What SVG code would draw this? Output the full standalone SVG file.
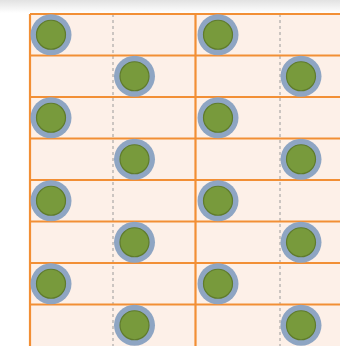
<svg xmlns="http://www.w3.org/2000/svg" width="340" height="346" viewBox="0 0 340 346">
<defs>
<linearGradient id="topShade" x1="0" y1="0" x2="0" y2="1">
<stop offset="0" stop-color="#e2e2e2"/>
<stop offset="1" stop-color="#ffffff"/>
</linearGradient>
<g id="dot">
<circle r="20.5" fill="#8ea5c3"/>
<circle r="14.5" fill="#789a3c" stroke="#5f7b2c" stroke-width="1.2"/>
</g>
</defs>
<style>
.cell{fill:#fdf0e8}
.ol{stroke:#f28f35;stroke-width:2.2;fill:none}
.dl{stroke:#9a9a9a;stroke-width:1;stroke-dasharray:3 3;fill:none}
</style>
<rect x="0" y="0" width="340" height="346" fill="#ffffff"/>
<rect x="0" y="0" width="340" height="13" fill="url(#topShade)"/>
<g id="table">
<rect class="cell" x="30" y="14" width="334" height="340"/>
<path class="dl" d="M113 14V346M280 14V346"/>
<path class="ol" d="M30 14H340M30 55.5H340M30 97H340M30 138.5H340M30 180H340M30 221.5H340M30 263H340M30 304.5H340"/>
<path class="ol" d="M30 14V346M195.5 14V346" stroke-width="2.6"/>
</g>
<g id="dots">
<use href="#dot" x="51" y="34.75"/>
<use href="#dot" x="218" y="34.75"/>
<use href="#dot" x="134.5" y="76.25"/>
<use href="#dot" x="301" y="76.25"/>
<use href="#dot" x="51" y="117.75"/>
<use href="#dot" x="218" y="117.75"/>
<use href="#dot" x="134.5" y="159.25"/>
<use href="#dot" x="301" y="159.25"/>
<use href="#dot" x="51" y="200.75"/>
<use href="#dot" x="218" y="200.75"/>
<use href="#dot" x="134.5" y="242.25"/>
<use href="#dot" x="301" y="242.25"/>
<use href="#dot" x="51" y="283.75"/>
<use href="#dot" x="218" y="283.75"/>
<use href="#dot" x="134.5" y="325.25"/>
<use href="#dot" x="301" y="325.25"/>
</g>
</svg>
